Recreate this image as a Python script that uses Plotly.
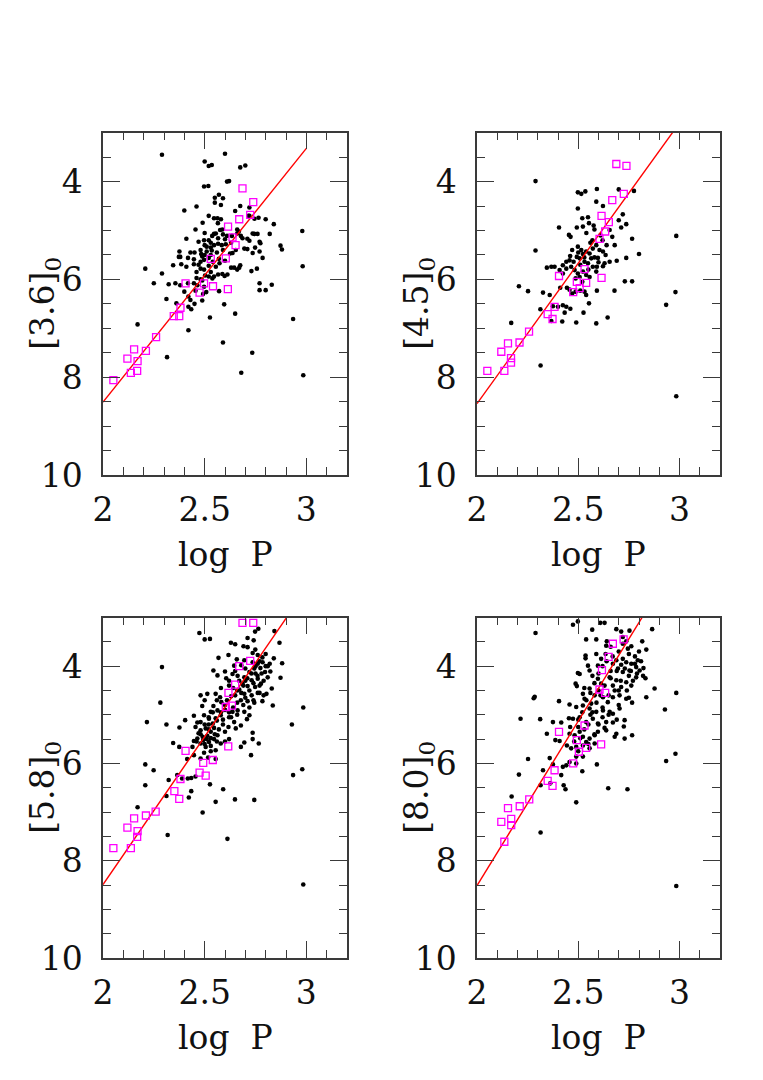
import plotly.graph_objects as go

# ---------------- data ----------------
BANDS = ["[3.6]", "[4.5]", "[5.8]", "[8.0]"]

# linear fits: magnitude at log P = 2 and slope
FIT_INTERCEPT = [8.51, 8.54, 8.49, 8.51]
FIT_SLOPE = [-5.19, -5.74, -6.08, -6.76]
FIT_X = [2.0, 3.0]

STARS_36 = [
    (2.29, 3.45), (2.60, 3.43), (2.50, 3.59), (2.52, 3.68), (2.535, 3.66), (2.675, 3.71), (2.70, 3.67),
    (2.497, 4.10), (2.518, 4.09), (2.61, 4.00), (2.62, 3.99), (2.57, 4.27), (2.55, 4.33), (2.59, 4.34),
    (2.55, 4.43), (2.58, 4.48), (2.40, 4.59), (2.46, 4.51), (2.65, 4.60), (2.675, 4.50), (2.72, 4.53),
    (2.52, 4.70), (2.546, 4.75), (2.563, 4.75), (2.58, 4.77), (2.49, 4.84), (2.565, 4.85), (2.715, 4.70),
    (2.765, 4.74), (2.80, 4.77), (2.84, 4.87), (2.455, 4.98), (2.50, 5.05), (2.546, 5.07), (2.555, 5.06),
    (2.576, 4.99), (2.587, 4.98), (2.66, 4.98), (2.66, 5.06), (2.668, 5.02), (2.736, 5.06), (2.744, 5.07),
    (2.76, 5.07), (2.82, 5.07), (2.98, 5.01), (2.41, 5.17), (2.47, 5.23), (2.497, 5.20), (2.52, 5.20),
    (2.537, 5.11), (2.566, 5.16), (2.60, 5.18), (2.61, 5.11), (2.634, 5.11), (2.678, 5.11), (2.686, 5.16),
    (2.71, 5.17), (2.72, 5.21), (2.77, 5.23), (2.774, 5.26), (2.50, 5.30), (2.51, 5.33), (2.53, 5.35),
    (2.546, 5.30), (2.566, 5.27), (2.584, 5.30), (2.604, 5.28), (2.873, 5.31), (2.88, 5.39), (2.376, 5.43),
    (2.38, 5.54), (2.43, 5.45), (2.45, 5.45), (2.48, 5.40), (2.483, 5.48), (2.51, 5.43), (2.535, 5.41),
    (2.625, 5.47), (2.637, 5.46), (2.653, 5.40), (2.695, 5.37), (2.71, 5.38), (2.736, 5.46), (2.748, 5.35),
    (2.77, 5.43), (2.785, 5.56), (2.373, 5.54), (2.418, 5.56), (2.447, 5.59), (2.48, 5.64), (2.488, 5.53),
    (2.497, 5.60), (2.52, 5.56), (2.54, 5.64), (2.345, 5.71), (2.385, 5.69), (2.41, 5.74), (2.447, 5.69),
    (2.48, 5.78), (2.497, 5.80), (2.53, 5.85), (2.555, 5.74), (2.573, 5.67), (2.63, 5.76), (2.645, 5.76),
    (2.66, 5.80), (2.675, 5.71), (2.757, 5.78), (2.73, 5.83), (2.208, 5.78), (2.29, 5.88), (2.982, 5.73),
    (2.46, 5.97), (2.48, 6.00), (2.502, 5.92), (2.52, 5.94), (2.546, 5.94), (2.566, 5.90), (2.587, 5.89),
    (2.598, 5.93), (2.612, 5.90), (2.25, 6.08), (2.323, 6.10), (2.356, 6.08), (2.38, 6.12), (2.418, 6.08),
    (2.447, 6.08), (2.464, 6.12), (2.488, 6.02), (2.497, 6.15), (2.538, 5.98), (2.77, 6.08), (2.77, 6.22),
    (2.80, 6.22), (2.83, 6.11), (2.40, 6.25), (2.42, 6.35), (2.43, 6.42), (2.455, 6.23), (2.492, 6.30),
    (2.508, 6.26), (2.571, 6.24), (2.312, 6.40), (2.361, 6.49), (2.42, 6.56), (2.434, 6.61), (2.45, 6.50),
    (2.488, 6.43), (2.596, 6.51), (2.65, 6.70), (2.526, 6.78), (2.17, 6.92), (2.42, 7.04), (2.935, 6.81),
    (2.59, 7.29), (2.734, 7.50), (2.315, 7.59), (2.68, 7.91), (2.985, 7.96), (2.67, 5.76), (2.72, 4.70),
    (2.745, 4.76), (2.53, 5.50), (2.56, 5.45), (2.59, 5.40), (2.50, 5.50), (2.47, 5.70), (2.52, 5.72),
    (2.57, 5.58), (2.60, 5.62), (2.53, 5.25), (2.59, 5.08), (2.63, 5.25), (2.46, 5.85),
]
CALIB_36 = [
    (2.686, 4.14), (2.739, 4.42), (2.724, 4.68), (2.67, 4.77), (2.615, 4.92), (2.637, 5.14), (2.652, 5.30),
    (2.53, 5.58), (2.604, 5.57), (2.406, 6.08), (2.497, 6.08), (2.541, 6.14), (2.475, 6.27), (2.614, 6.20),
    (2.381, 6.58), (2.375, 6.75), (2.348, 6.75), (2.261, 7.18), (2.153, 7.43), (2.211, 7.46), (2.12, 7.62),
    (2.17, 7.67), (2.137, 7.91), (2.168, 7.87), (2.051, 8.06),
]

STARS_45 = [
    (2.289, 3.99), (2.498, 4.22), (2.515, 4.25), (2.535, 4.20), (2.592, 4.15), (2.589, 4.41), (2.622, 4.50),
    (2.70, 4.16), (2.775, 4.19), (2.498, 4.55), (2.52, 4.75), (2.548, 4.73), (2.553, 4.85), (2.576, 4.90),
    (2.58, 4.98), (2.405, 4.94), (2.454, 5.09), (2.462, 5.13), (2.493, 4.94), (2.523, 4.92), (2.655, 4.99),
    (2.668, 5.13), (2.72, 4.67), (2.712, 4.94), (2.737, 4.87), (2.70, 4.79), (2.766, 5.17), (2.80, 5.48),
    (2.737, 5.56), (2.69, 5.62), (2.655, 5.64), (2.63, 5.67), (2.622, 5.73), (2.597, 5.56), (2.984, 5.11),
    (2.289, 5.41), (2.345, 5.76), (2.367, 5.74), (2.383, 5.74), (2.408, 5.81), (2.424, 5.71), (2.441, 5.64),
    (2.457, 5.61), (2.477, 5.64), (2.493, 5.54), (2.498, 5.33), (2.515, 5.40), (2.523, 5.48), (2.539, 5.43),
    (2.556, 5.47), (2.572, 5.37), (2.589, 5.30), (2.605, 5.40), (2.622, 5.43), (2.635, 5.50), (2.507, 5.57),
    (2.531, 5.64), (2.548, 5.67), (2.564, 5.57), (2.465, 5.74), (2.482, 5.81), (2.498, 5.88), (2.523, 5.84),
    (2.539, 5.91), (2.556, 5.95), (2.507, 5.95), (2.487, 5.98), (2.52, 6.05), (2.572, 5.74), (2.589, 5.84),
    (2.592, 5.74), (2.441, 5.78), (2.424, 5.88), (2.73, 6.04), (2.766, 6.04), (2.207, 6.14), (2.252, 6.24),
    (2.326, 6.27), (2.359, 6.32), (2.411, 6.17), (2.444, 6.17), (2.457, 6.21), (2.47, 6.29), (2.487, 6.25),
    (2.51, 6.23), (2.531, 6.25), (2.539, 6.32), (2.592, 6.23), (2.679, 6.23), (2.313, 6.61), (2.375, 6.55),
    (2.40, 6.56), (2.424, 6.53), (2.441, 6.56), (2.461, 6.60), (2.433, 6.68), (2.553, 6.49), (2.526, 6.68),
    (2.367, 6.85), (2.421, 6.86), (2.49, 6.88), (2.589, 6.90), (2.645, 6.78), (2.169, 6.89), (2.934, 6.52),
    (2.98, 6.26), (2.314, 7.76), (2.984, 8.39), (2.61, 5.10), (2.57, 5.20), (2.54, 5.05), (2.64, 5.30),
    (2.47, 5.40), (2.58, 5.55), (2.56, 5.25), (2.51, 5.70), (2.53, 5.55), (2.55, 5.80), (2.50, 5.45),
    (2.60, 5.65), (2.62, 5.20), (2.68, 5.30), (2.46, 5.52),
]
CALIB_45 = [
    (2.688, 3.64), (2.738, 3.68), (2.725, 4.25), (2.668, 4.38), (2.615, 4.70), (2.651, 4.83), (2.633, 5.02),
    (2.605, 5.17), (2.531, 5.79), (2.405, 5.93), (2.615, 5.97), (2.493, 6.05), (2.539, 6.07), (2.507, 6.18),
    (2.475, 6.26), (2.383, 6.56), (2.349, 6.71), (2.373, 6.81), (2.257, 7.07), (2.21, 7.29), (2.153, 7.31),
    (2.12, 7.48), (2.168, 7.61), (2.168, 7.70), (2.135, 7.87), (2.051, 7.87),
]

STARS_58 = [
    (2.474, 3.32), (2.50, 3.45), (2.526, 3.44), (2.748, 3.29), (2.764, 3.23), (2.843, 3.28), (2.711, 3.42),
    (2.741, 3.47), (2.629, 3.52), (2.65, 3.55), (2.691, 3.59), (2.711, 3.61), (2.868, 3.52), (2.749, 3.66),
    (2.736, 3.73), (2.568, 3.83), (2.617, 3.77), (2.658, 3.86), (2.761, 3.77), (2.784, 3.82), (2.84, 3.84),
    (2.881, 3.94), (2.29, 4.02), (2.695, 3.88), (2.736, 3.92), (2.761, 3.95), (2.785, 3.92), (2.645, 3.99),
    (2.543, 4.09), (2.563, 4.19), (2.60, 4.11), (2.606, 4.25), (2.637, 4.16), (2.662, 4.20), (2.695, 4.23),
    (2.72, 4.12), (2.744, 4.05), (2.774, 4.04), (2.797, 4.12), (2.823, 4.11), (2.873, 4.24), (2.761, 4.26),
    (2.731, 4.29), (2.81, 4.23), (2.686, 4.36), (2.711, 4.41), (2.748, 4.43), (2.777, 4.36), (2.83, 4.46),
    (2.513, 4.57), (2.554, 4.57), (2.576, 4.64), (2.582, 4.74), (2.50, 4.70), (2.48, 4.60), (2.67, 4.48),
    (2.695, 4.57), (2.731, 4.60), (2.761, 4.55), (2.678, 4.70), (2.711, 4.72), (2.744, 4.75), (2.784, 4.72),
    (2.804, 4.57), (2.835, 4.81), (2.282, 4.75), (2.488, 4.82), (2.543, 4.82), (2.563, 4.91), (2.53, 4.94),
    (2.497, 5.01), (2.447, 5.02), (2.48, 5.15), (2.521, 5.08), (2.554, 5.07), (2.579, 5.01), (2.637, 4.94),
    (2.662, 4.91), (2.695, 4.94), (2.72, 5.01), (2.708, 5.09), (2.645, 5.15), (2.653, 5.28), (2.617, 5.25),
    (2.678, 5.22), (2.736, 5.37), (2.464, 5.16), (2.216, 5.15), (2.312, 5.20), (2.376, 5.26), (2.404, 5.11),
    (2.455, 5.25), (2.48, 5.32), (2.505, 5.28), (2.53, 5.35), (2.546, 5.27), (2.563, 5.42), (2.513, 5.43),
    (2.493, 5.52), (2.521, 5.56), (2.546, 5.50), (2.464, 5.49), (2.447, 5.54), (2.48, 5.59), (2.505, 5.66),
    (2.53, 5.64), (2.554, 5.73), (2.579, 5.59), (2.345, 5.58), (2.375, 5.66), (2.44, 5.66), (2.695, 5.57),
    (2.678, 5.66), (2.766, 5.59), (2.736, 5.50), (2.414, 5.91), (2.447, 5.83), (2.48, 5.90), (2.517, 5.88),
    (2.554, 5.91), (2.497, 5.78), (2.728, 5.83), (2.208, 6.02), (2.249, 6.14), (2.208, 6.45), (2.323, 6.34),
    (2.365, 6.24), (2.417, 6.31), (2.434, 6.30), (2.455, 6.27), (2.389, 6.31), (2.526, 6.43), (2.591, 6.53),
    (2.422, 6.70), (2.434, 6.57), (2.312, 6.67), (2.554, 6.79), (2.649, 6.74), (2.744, 6.75), (2.17, 6.90),
    (2.49, 7.01), (2.318, 7.47), (2.612, 7.55), (2.929, 5.20), (2.985, 4.85), (2.935, 6.24), (2.98, 6.12),
    (2.985, 8.49), (2.62, 4.40), (2.65, 4.60), (2.60, 4.80), (2.70, 4.30), (2.75, 4.15), (2.80, 4.00),
    (2.59, 5.10), (2.62, 5.05), (2.52, 5.20), (2.77, 4.40), (2.72, 4.85),
    (2.46, 5.55), (2.47, 5.38), (2.49, 5.45), (2.50, 5.60), (2.51, 5.50), (2.52, 5.30), (2.53, 5.48),
    (2.54, 5.18), (2.55, 5.40), (2.56, 5.12), (2.57, 5.30), (2.58, 4.95), (2.59, 5.20), (2.60, 4.90),
    (2.60, 5.35), (2.61, 4.70), (2.62, 4.95), (2.63, 4.62), (2.63, 5.05), (2.64, 4.45), (2.64, 4.85),
    (2.66, 4.50), (2.66, 4.75), (2.67, 4.30), (2.68, 4.55), (2.69, 4.40), (2.70, 4.05), (2.70, 4.65),
    (2.71, 4.25), (2.72, 4.50), (2.73, 4.15), (2.74, 4.35), (2.75, 4.00), (2.76, 4.20), (2.77, 3.90),
    (2.78, 4.15), (2.79, 4.30), (2.80, 3.75), (2.81, 4.00), (2.82, 3.95), (2.68, 3.98), (2.65, 4.10),
    (2.62, 4.30), (2.58, 4.45), (2.56, 4.70), (2.54, 4.95), (2.52, 5.05), (2.50, 5.20), (2.48, 5.40),
    (2.53, 5.75), (2.56, 5.55), (2.60, 5.55), (2.62, 5.50), (2.66, 5.00), (2.69, 4.80), (2.74, 4.70),
    (2.77, 4.55), (2.79, 4.60),
]
CALIB_58 = [
    (2.686, 3.11), (2.739, 3.11), (2.724, 3.89), (2.67, 4.00), (2.65, 4.38), (2.617, 4.55), (2.634, 4.81),
    (2.604, 4.84), (2.616, 5.65), (2.406, 5.74), (2.54, 5.93), (2.493, 5.99), (2.475, 6.19), (2.505, 6.25),
    (2.381, 6.32), (2.351, 6.57), (2.375, 6.73), (2.259, 6.99), (2.211, 7.07), (2.153, 7.13), (2.12, 7.32),
    (2.17, 7.39), (2.168, 7.51), (2.051, 7.74), (2.137, 7.74),
]

STARS_80 = [
    (2.474, 3.15), (2.498, 3.08), (2.609, 3.11), (2.63, 3.11), (2.289, 3.32), (2.569, 3.25), (2.688, 3.24),
    (2.712, 3.29), (2.753, 3.27), (2.865, 3.24), (2.539, 3.45), (2.589, 3.45), (2.641, 3.49), (2.638, 3.58),
    (2.72, 3.54), (2.737, 3.49), (2.762, 3.59), (2.816, 3.49), (2.836, 3.66), (2.745, 3.64), (2.536, 3.78),
    (2.536, 3.84), (2.589, 3.75), (2.635, 3.75), (2.671, 3.95), (2.548, 3.99), (2.556, 4.09), (2.597, 3.99),
    (2.688, 3.88), (2.712, 3.97), (2.737, 3.92), (2.762, 3.95), (2.786, 4.02), (2.822, 4.04), (2.696, 4.05),
    (2.72, 4.12), (2.753, 4.09), (2.786, 4.23), (2.832, 4.25), (2.507, 4.16), (2.498, 4.14), (2.597, 4.26),
    (2.655, 4.23), (2.688, 4.29), (2.737, 4.33), (2.671, 4.40), (2.712, 4.43), (2.762, 4.40), (2.487, 4.36),
    (2.493, 4.41), (2.556, 4.46), (2.523, 4.57), (2.531, 4.67), (2.581, 4.60), (2.622, 4.64), (2.646, 4.74),
    (2.671, 4.64), (2.704, 4.60), (2.737, 4.67), (2.766, 4.75), (2.836, 4.64), (2.877, 4.46), (2.285, 4.63),
    (2.28, 4.66), (2.405, 4.72), (2.457, 4.79), (2.49, 4.84), (2.523, 4.81), (2.556, 4.87), (2.589, 4.94),
    (2.622, 4.91), (2.655, 4.94), (2.671, 4.98), (2.704, 4.87), (2.638, 5.15), (2.671, 5.16), (2.63, 5.27),
    (2.638, 5.32), (2.688, 5.39), (2.729, 5.11), (2.725, 5.24), (2.766, 5.42), (2.729, 5.49), (2.215, 5.08),
    (2.312, 5.09), (2.375, 5.15), (2.416, 5.16), (2.454, 5.07), (2.474, 5.08), (2.507, 5.05), (2.539, 5.15),
    (2.572, 5.08), (2.597, 5.18), (2.345, 5.39), (2.387, 5.52), (2.408, 5.54), (2.444, 5.63), (2.457, 5.39),
    (2.482, 5.42), (2.507, 5.35), (2.523, 5.45), (2.556, 5.49), (2.581, 5.42), (2.597, 5.35), (2.539, 5.56),
    (2.581, 5.59), (2.465, 5.69), (2.49, 5.66), (2.523, 5.63), (2.556, 5.69), (2.252, 5.91), (2.359, 5.89),
    (2.326, 6.14), (2.375, 6.02), (2.424, 6.07), (2.441, 6.04), (2.457, 5.97), (2.49, 5.86), (2.523, 5.86),
    (2.49, 6.00), (2.207, 6.23), (2.314, 6.45), (2.362, 6.41), (2.416, 6.24), (2.428, 6.45), (2.437, 6.53),
    (2.52, 6.16), (2.592, 6.02), (2.648, 6.51), (2.743, 6.53), (2.49, 6.80), (2.171, 6.68), (2.314, 7.42),
    (2.928, 4.89), (2.984, 4.55), (2.934, 5.95), (2.98, 5.80), (2.984, 8.52), (2.794, 3.88), (2.803, 4.09),
    (2.613, 3.85), (2.613, 4.36), (2.564, 4.77), (2.68, 5.45), (2.70, 4.50), (2.75, 4.20), (2.78, 3.80),
    (2.66, 4.10), (2.60, 4.50), (2.56, 5.00), (2.62, 5.05), (2.50, 5.25),
    (2.46, 5.25), (2.48, 5.55), (2.50, 5.10), (2.51, 5.48), (2.52, 4.95), (2.53, 5.30), (2.54, 4.70),
    (2.55, 5.20), (2.56, 4.55), (2.57, 4.95), (2.58, 4.35), (2.59, 4.75), (2.60, 4.15), (2.61, 4.60),
    (2.62, 4.00), (2.62, 4.85), (2.63, 4.40), (2.64, 3.90), (2.65, 4.60), (2.66, 4.25), (2.67, 3.80),
    (2.68, 4.50), (2.69, 4.10), (2.70, 3.70), (2.71, 4.30), (2.72, 3.85), (2.73, 4.05), (2.74, 4.50),
    (2.75, 3.75), (2.76, 4.10), (2.77, 4.30), (2.78, 3.95), (2.79, 4.15), (2.80, 3.70), (2.81, 3.90),
    (2.82, 4.20), (2.60, 5.20), (2.58, 5.40), (2.55, 5.60), (2.65, 5.00), (2.70, 4.80), (2.50, 5.75),
    (2.53, 4.45), (2.57, 4.20), (2.66, 3.60), (2.72, 3.40), (2.69, 5.10), (2.75, 4.65),
]
CALIB_80 = [
    (2.724, 3.45), (2.671, 3.54), (2.65, 3.81), (2.617, 4.08), (2.605, 4.48), (2.633, 4.55), (2.531, 5.22),
    (2.405, 5.35), (2.493, 5.52), (2.613, 5.61), (2.539, 5.68), (2.503, 5.76), (2.475, 6.00), (2.383, 6.14),
    (2.349, 6.36), (2.373, 6.46), (2.258, 6.74), (2.211, 6.88), (2.153, 6.92), (2.169, 7.14), (2.169, 7.27),
    (2.12, 7.20), (2.135, 7.61),
]

STARS = [STARS_36, STARS_45, STARS_58, STARS_80]
CALIB = [CALIB_36, CALIB_45, CALIB_58, CALIB_80]

X_RANGE = [2.0, 3.2]
Y_RANGE = [10.0, 3.0]

# ---------------- layout geometry (pixels of a 763 x 1080 page) ----------------
W, H = 763, 1080
COLS = [(103, 347), (477, 720)]
ROWS = [(132.7, 475), (617.5, 958)]

FONT = "DejaVu Serif"
FRAME = "#3a3a3a"

fig = go.Figure()
layout = dict(
    template="none",
    width=W, height=H, margin=dict(l=0, r=0, t=0, b=0, pad=0, autoexpand=False),
    paper_bgcolor="white", plot_bgcolor="white", showlegend=False,
    font=dict(family=FONT, size=33, color="#111"),
)
annotations = []

for i in range(4):
    r, c = divmod(i, 2)
    x0, x1 = COLS[c]
    y0, y1 = ROWS[r]
    sfx = "" if i == 0 else str(i + 1)
    xa, ya = "x" + sfx, "y" + sfx

    sx = [p[0] for p in STARS[i]]
    sy = [p[1] for p in STARS[i]]
    cx = [p[0] for p in CALIB[i]]
    cy = [p[1] for p in CALIB[i]]
    fy = [FIT_INTERCEPT[i] + FIT_SLOPE[i] * (x - 2.0) for x in FIT_X]

    fig.add_trace(go.Scatter(x=sx, y=sy, mode="markers", xaxis=xa, yaxis=ya,
                             marker=dict(color="black", size=4.6, line=dict(width=0))))
    fig.add_trace(go.Scatter(x=FIT_X, y=fy, mode="lines", xaxis=xa, yaxis=ya,
                             line=dict(color="red", width=1.4)))
    fig.add_trace(go.Scatter(x=cx, y=cy, mode="markers", xaxis=xa, yaxis=ya,
                             marker=dict(symbol="square-open", color="#ff00ff", size=7,
                                         line=dict(color="#ff00ff", width=1.3))))

    common = dict(showgrid=False, zeroline=False, showline=True, linecolor=FRAME, linewidth=1.5,
                  mirror="ticks", ticks="inside", tickcolor=FRAME, tickwidth=1.3, ticklen=17,
                  automargin=False,
                  tickfont=dict(family=FONT, size=33, color="#111"))
    layout["xaxis" + sfx] = dict(
        common, domain=[x0 / W, x1 / W], anchor=ya, range=X_RANGE,
        tickmode="linear", tick0=2, dtick=0.5, ticklabelstandoff=5,
        minor=dict(tickmode="linear", tick0=2, dtick=0.1, ticks="inside", ticklen=8,
                   tickcolor=FRAME, tickwidth=1.3, showgrid=False),
    )
    layout["yaxis" + sfx] = dict(
        common, domain=[1 - y1 / H, 1 - y0 / H], anchor=xa, range=Y_RANGE,
        tickmode="linear", tick0=4, dtick=2, ticklabelstandoff=12,
        minor=dict(tickmode="linear", tick0=3, dtick=0.5, ticks="inside", ticklen=8,
                   tickcolor=FRAME, tickwidth=1.3, showgrid=False),
    )
    # axis titles
    annotations.append(dict(text="log\u00a0\u00a0P", xref="paper", yref="paper",
                            x=(x0 + x1) / 2 / W, y=1 - (y1 + 79) / H, xanchor="center",
                            yanchor="middle", showarrow=False,
                            font=dict(family=FONT, size=33, color="#111")))
    annotations.append(dict(text=BANDS[i] + "<sub>0</sub>", xref="paper", yref="paper",
                            x=(x0 - 58) / W, y=1 - ((y0 + y1) / 2) / H, xanchor="center",
                            yanchor="middle", textangle=-90, showarrow=False,
                            font=dict(family=FONT, size=33, color="#111")))

layout["annotations"] = annotations
fig.update_layout(**layout)
fig.write_html("out.html", config={"displayModeBar": False},
               post_script="document.body.style.margin='0px';")
